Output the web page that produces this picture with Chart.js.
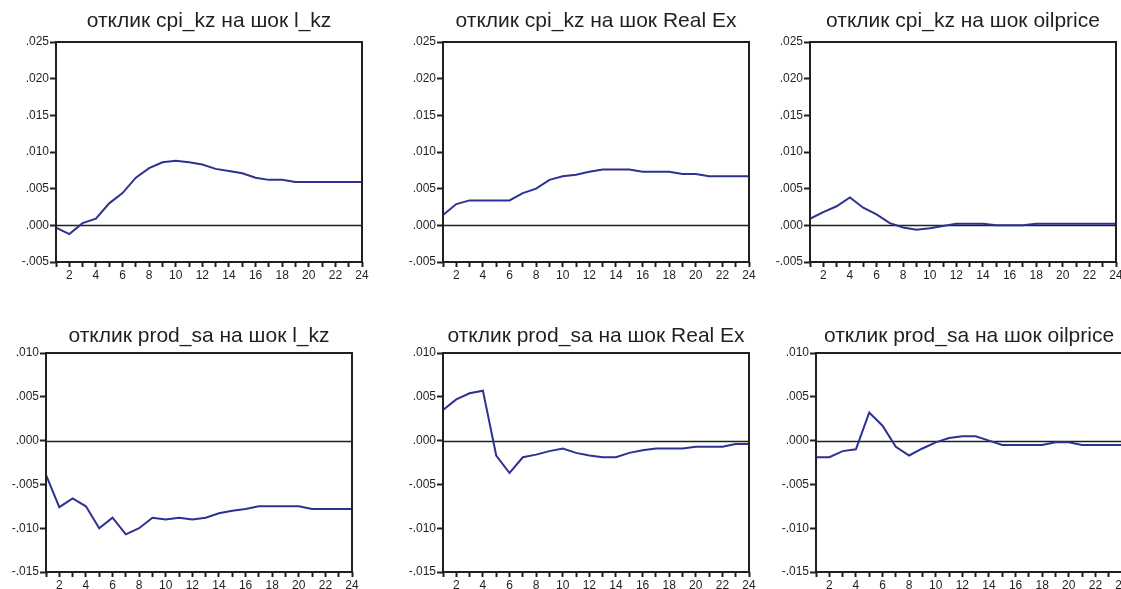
<!DOCTYPE html>
<html>
<head>
<meta charset="utf-8">
<script src="https://cdn.jsdelivr.net/npm/chart.js@4.4.1/dist/chart.umd.min.js"></script>
<style>
  html, body { margin: 0; padding: 0; background: #fff; }
  body { width: 1121px; height: 589px; overflow: hidden; position: relative; }
  canvas { position: absolute; }
</style>
</head>
<body>
<script>
// Impulse-response horizon (periods)
const periods = [1,2,3,4,5,6,7,8,9,10,11,12,13,14,15,16,17,18,19,20,21,22,23,24];

// Response of cpi_kz
const cpiOnLkz    = [-0.0003,-0.0012,0.0003,0.0009,0.0030,0.0044,0.0065,0.0078,0.0086,0.0088,0.0086,0.0083,0.0077,0.0074,0.0071,0.0065,0.0062,0.0062,0.0059,0.0059,0.0059,0.0059,0.0059,0.0059];
const cpiOnRealEx = [0.0014,0.0029,0.0034,0.0034,0.0034,0.0034,0.0044,0.0050,0.0062,0.0067,0.0069,0.0073,0.0076,0.0076,0.0076,0.0073,0.0073,0.0073,0.0070,0.0070,0.0067,0.0067,0.0067,0.0067];
const cpiOnOil    = [0.0009,0.0018,0.0026,0.0038,0.0024,0.0015,0.0003,-0.0003,-0.0006,-0.0004,-0.0001,0.0002,0.0002,0.0002,0.0000,0.0000,0.0000,0.0002,0.0002,0.0002,0.0002,0.0002,0.0002,0.0002];

// Response of prod_sa
const prodOnLkz    = [-0.0039,-0.0076,-0.0066,-0.0075,-0.0100,-0.0088,-0.0107,-0.0100,-0.0088,-0.0090,-0.0088,-0.0090,-0.0088,-0.0083,-0.0080,-0.0078,-0.0075,-0.0075,-0.0075,-0.0075,-0.0078,-0.0078,-0.0078,-0.0078];
const prodOnRealEx = [0.0035,0.0047,0.0054,0.0057,-0.0017,-0.0037,-0.0019,-0.0016,-0.0012,-0.0009,-0.0014,-0.0017,-0.0019,-0.0019,-0.0014,-0.0011,-0.0009,-0.0009,-0.0009,-0.0007,-0.0007,-0.0007,-0.0004,-0.0004];
const prodOnOil    = [-0.0019,-0.0019,-0.0012,-0.0010,0.0032,0.0017,-0.0007,-0.0017,-0.0009,-0.0002,0.0003,0.0005,0.0005,0.0000,-0.0005,-0.0005,-0.0005,-0.0005,-0.0002,-0.0002,-0.0005,-0.0005,-0.0005,-0.0005];

// Value-axis tick labels
const cpiTicks  = [-0.005, 0.000, 0.005, 0.010, 0.015, 0.020, 0.025];
const prodTicks = [-0.015, -0.010, -0.005, 0.000, 0.005, 0.010];

// Panel titles
const titles = [
  'отклик cpi_kz на шок l_kz',
  'отклик cpi_kz на шок Real Ex',
  'отклик cpi_kz на шок oilprice',
  'отклик prod_sa на шок l_kz',
  'отклик prod_sa на шок Real Ex',
  'отклик prod_sa на шок oilprice'
];

const series = [cpiOnLkz, cpiOnRealEx, cpiOnOil, prodOnLkz, prodOnRealEx, prodOnOil];
const tickSets = [cpiTicks, cpiTicks, cpiTicks, prodTicks, prodTicks, prodTicks];

// Plot-area placement of each panel on the page
const layout = [
  { left: 56,  right: 362,  top: 42,  bottom: 262, titleTop: 9 },
  { left: 443, right: 749,  top: 42,  bottom: 262, titleTop: 9 },
  { left: 810, right: 1116, top: 42,  bottom: 262, titleTop: 9 },
  { left: 46,  right: 352,  top: 353, bottom: 572, titleTop: 324 },
  { left: 443, right: 749,  top: 353, bottom: 572, titleTop: 324 },
  { left: 816, right: 1122, top: 353, bottom: 572, titleTop: 324 }
];

const FONT = "'Liberation Sans', Arial, Helvetica, sans-serif";
const INK = '#231f20';
const LINE = '#2e3192';
const Y_W = 46;     // width reserved for value axis
const X_H = 24;     // height reserved for period axis
const TITLE_LH = 24;
const TITLE_PAD = 6;

const fmt = v => {
  const s = Math.abs(v) < 1e-9 ? '0.000' : v.toFixed(3);
  return s.replace(/^(-?)0\./, '$1.');
};

// Frame around the plot area and the zero reference line
const framePlugin = {
  id: 'frame',
  beforeDatasetsDraw(chart) {
    const { ctx, chartArea: a, scales: { y } } = chart;
    const z = Math.round(y.getPixelForValue(0)) + 0.5;
    ctx.save();
    ctx.strokeStyle = INK;
    ctx.lineWidth = 1.6;
    ctx.beginPath();
    ctx.moveTo(a.left, z);
    ctx.lineTo(a.right, z);
    ctx.stroke();
    ctx.restore();
  },
  afterDatasetsDraw(chart) {
    const { ctx, chartArea: a } = chart;
    ctx.save();
    ctx.strokeStyle = INK;
    ctx.lineWidth = 2;
    ctx.strokeRect(a.left, a.top, a.right - a.left, a.bottom - a.top);
    ctx.restore();
  }
};

layout.forEach((p, i) => {
  const plotW = p.right - p.left;
  const canvasTop = p.titleTop - TITLE_PAD;
  const w = plotW + 2 * Y_W;
  const h = p.bottom - canvasTop + X_H;
  const cv = document.createElement('canvas');
  cv.width = w; cv.height = h;
  cv.style.left = (p.left - Y_W) + 'px';
  cv.style.top = canvasTop + 'px';
  cv.style.width = w + 'px';
  cv.style.height = h + 'px';
  document.body.appendChild(cv);

  const ticks = tickSets[i];
  new Chart(cv, {
    type: 'line',
    data: {
      labels: periods.map(String),
      datasets: [{
        data: series[i],
        borderColor: LINE,
        borderWidth: 2,
        pointRadius: 0,
        tension: 0,
        fill: false
      }]
    },
    options: {
      responsive: false,
      animation: false,
      devicePixelRatio: 1,
      layout: { padding: { left: 0, right: Y_W, top: 0, bottom: 0 } },
      plugins: {
        legend: { display: false },
        tooltip: { enabled: false },
        title: {
          display: true,
          fullSize: false,
          text: titles[i],
          color: INK,
          font: { family: FONT, size: 21, weight: 'normal', lineHeight: TITLE_LH / 21 },
          padding: { top: TITLE_PAD, bottom: p.top - p.titleTop - TITLE_LH }
        }
      },
      scales: {
        x: {
          type: 'category',
          offset: false,
          afterFit: s => { s.height = X_H; },
          grid: { display: true, drawOnChartArea: false, drawTicks: true, tickLength: 5, tickWidth: 2, tickColor: INK },
          border: { display: false },
          ticks: {
            autoSkip: false, maxRotation: 0, minRotation: 0, padding: 1,
            color: INK, font: { family: FONT, size: 12 },
            callback(value) {
              const lab = this.getLabelForValue(value);
              return Number(lab) % 2 === 0 ? lab : '';
            }
          }
        },
        y: {
          type: 'linear',
          min: ticks[0],
          max: ticks[ticks.length - 1],
          afterFit: s => { s.width = Y_W; },
          afterBuildTicks: s => { s.ticks = ticks.map(v => ({ value: v })); },
          grid: { display: true, drawOnChartArea: false, drawTicks: true, tickLength: 6, tickWidth: 2, tickColor: INK },
          border: { display: false },
          ticks: {
            padding: 1,
            color: INK, font: { family: FONT, size: 12 },
            callback: v => fmt(v)
          }
        }
      }
    },
    plugins: [framePlugin]
  });
});
</script>
</body>
</html>
